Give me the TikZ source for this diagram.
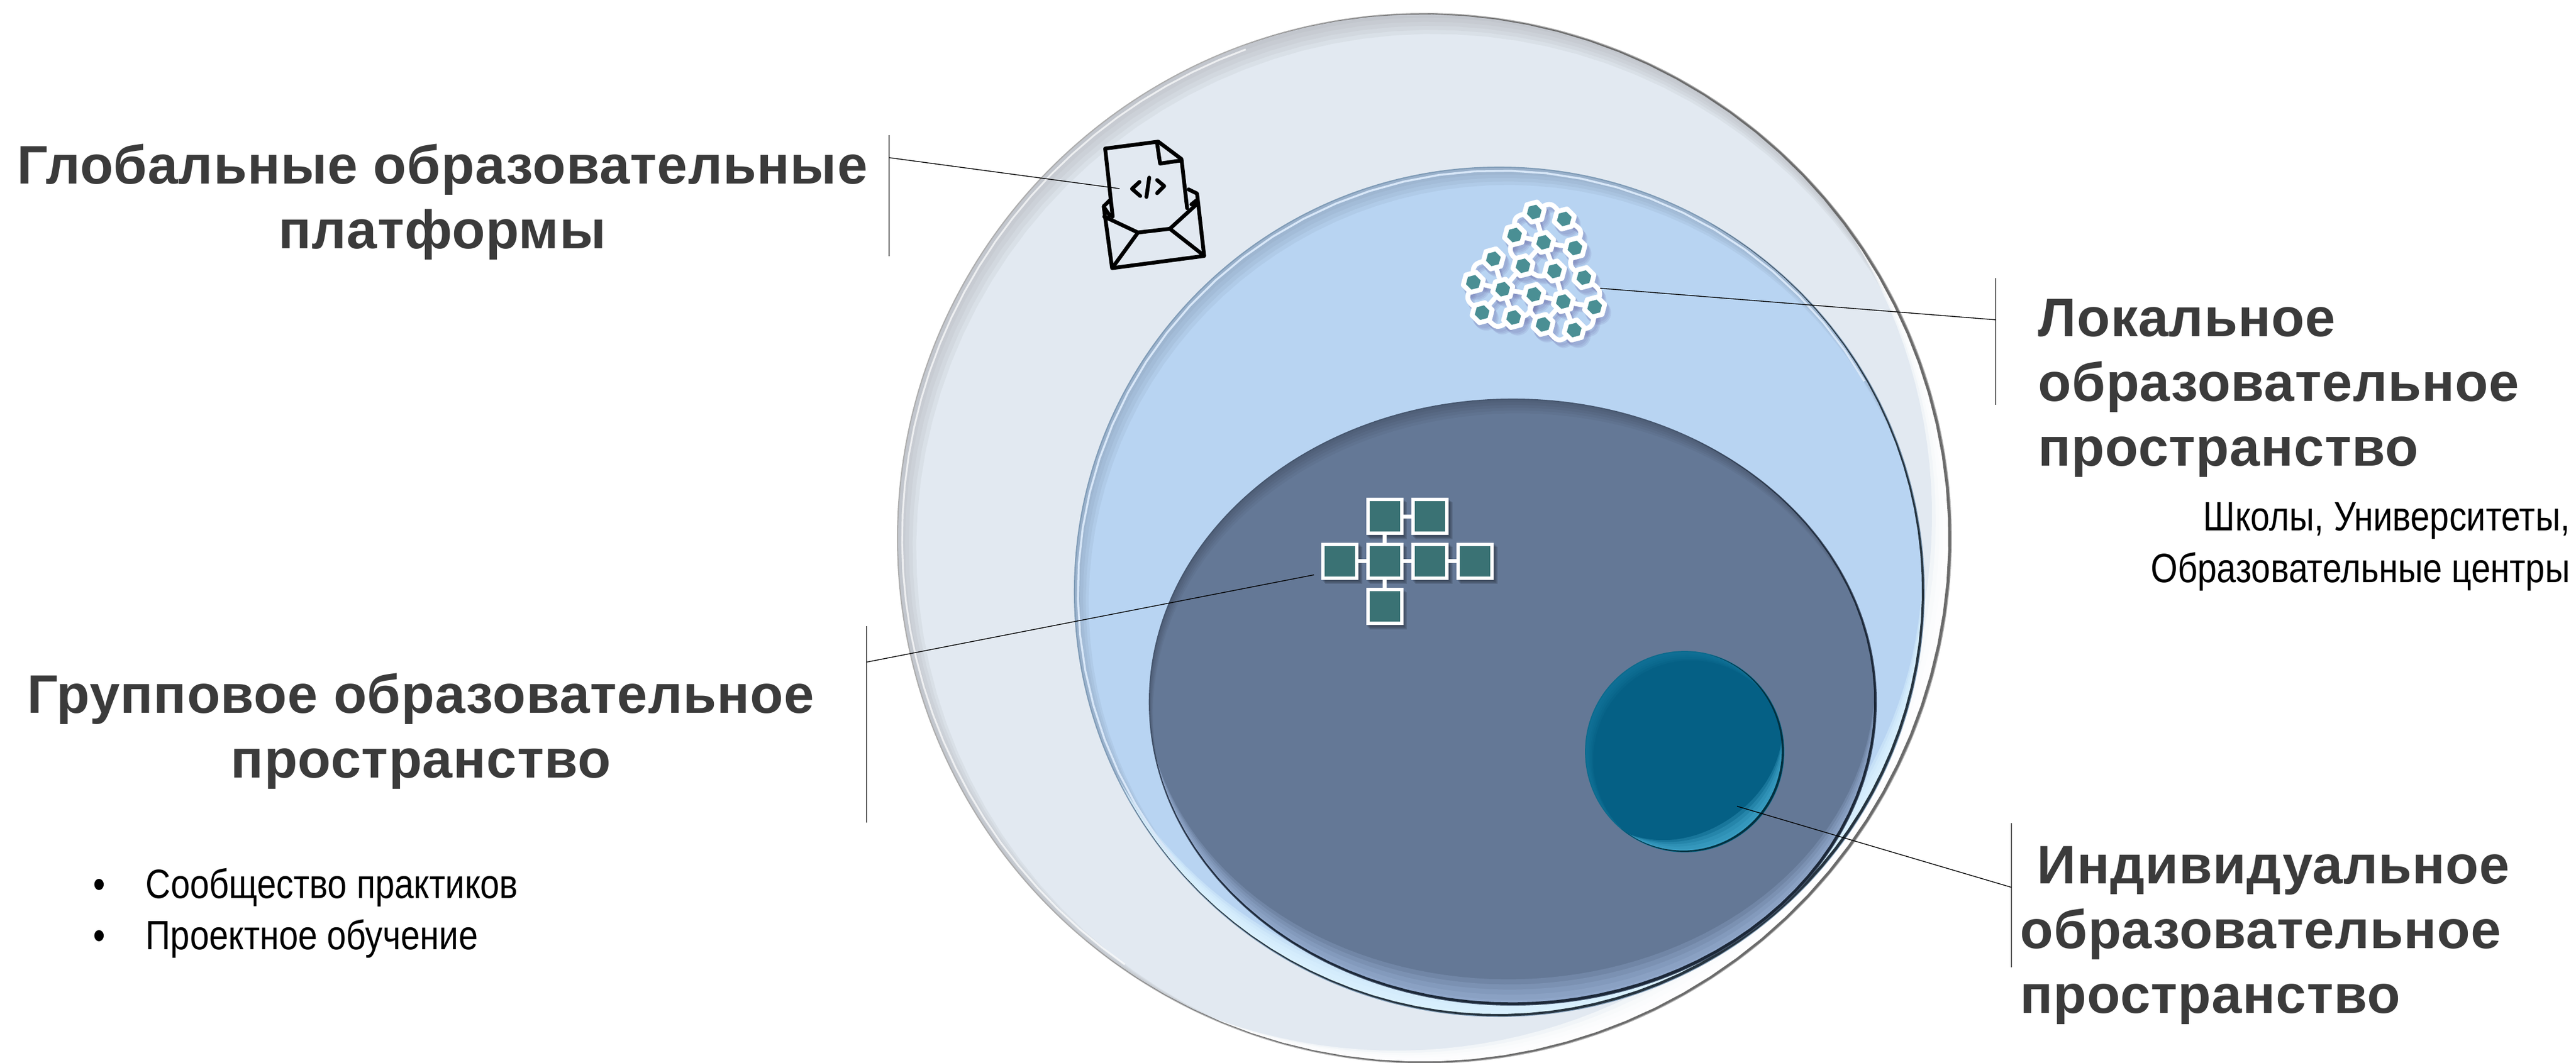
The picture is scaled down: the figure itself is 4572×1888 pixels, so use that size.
\documentclass[tikz,border=0pt]{standalone}
\usepackage{fontspec}
\setmainfont{Liberation Sans}
\newfontfamily\headfont[LetterSpace=1.0]{Liberation Sans Bold}
\newfontfamily\bodyfont[FakeStretch=0.845]{Liberation Sans}
\usetikzlibrary{shapes.geometric,calc}
\definecolor{outerbody}{HTML}{E2E9F1}
\definecolor{midbody}{HTML}{B8D4F2}
\definecolor{innerbody}{HTML}{647896}
\definecolor{smallbody}{HTML}{056085}
\definecolor{headgray}{HTML}{3B3B3B}
\definecolor{hexteal}{HTML}{4A8F94}
\definecolor{sqteal}{HTML}{3A7274}
\definecolor{midhi}{HTML}{DCF3FF}
\definecolor{midedge}{HTML}{26343F}
\definecolor{midrim}{HTML}{7F9BB6}
\definecolor{innerhi}{HTML}{A3BAE0}
\definecolor{inneredge}{HTML}{1C2838}
\definecolor{innerrim}{HTML}{46566E}
\definecolor{smallhi}{HTML}{45AACF}
\definecolor{smallup}{HTML}{1B7FA5}
\definecolor{smallrim}{HTML}{0B6A8C}
\definecolor{smalledge}{HTML}{02303F}
\newcommand{\bevellens}[9]{% cx cy rx ry a b W colour op
  \foreach \kk in {1,...,5}{%
    \pgfmathsetmacro{\ww}{#7*(0.2*\kk)}%
    \fill[#8,opacity=#9]
      plot[domain=#5:#6,samples=70] ({#1+(#3-\ww*max(sin((\x-(#5))/((#6)-(#5))*180),0))*cos(\x)},{#2+(#4-\ww*max(sin((\x-(#5))/((#6)-(#5))*180),0))*sin(\x)})
      -- plot[domain=#6:#5,samples=70] ({#1+#3*cos(\x)},{#2+#4*sin(\x)}) -- cycle;
  }}
\newcommand{\edgelens}[8]{% cx cy rx ry a b W colour
    \fill[#8]
      plot[domain=#5:#6,samples=70] ({#1+(#3-#7*max(sin((\x-(#5))/((#6)-(#5))*180),0))*cos(\x)},{#2+(#4-#7*max(sin((\x-(#5))/((#6)-(#5))*180),0))*sin(\x)})
      -- plot[domain=#6:#5,samples=70] ({#1+#3*cos(\x)},{#2+#4*sin(\x)}) -- cycle;
}
\tikzset{
  leader/.style={black,line width=0.4pt},
  bracket/.style={black!65,line width=0.45pt},
  headtext/.style={font=\fontsize{27.4}{32.7}\selectfont\headfont,text=headgray,inner sep=0pt},
  bodytext/.style={font=\fontsize{20.7}{25.9}\selectfont\bodyfont,text=black,inner sep=0pt},
  hexnode/.style={regular polygon,regular polygon sides=6,shape border rotate=15,minimum size=0.37cm,inner sep=0pt,outer sep=0pt,fill=hexteal,draw=white,line width=0.085cm,line join=round},
  hexlink/.style={white,line width=0.085cm},
  hexshade/.style={line width=0.09cm,color=black!60!blue!60!white,opacity=0.13},
  sqnode/.style={rectangle,minimum size=0.60cm,inner sep=0pt,outer sep=0pt,fill=sqteal,draw=white,line width=0.06cm},
  sqlink/.style={white,line width=0.07cm},
  icon/.style={black,line width=0.068cm,line join=round,line cap=round},
}
\begin{document}
\begin{tikzpicture}[x=0.01cm,y=-0.01cm]
\useasboundingbox (0,0) rectangle (4572,1888);
\fill[white] (0,0) rectangle (4572,1888);

% ---- outer disc
\fill[outerbody] (2528,956) ellipse [x radius=935,y radius=932];
\bevellens{2528}{956}{935}{932}{110}{350}{42}{gray!55!outerbody}{0.15}
\bevellens{2528}{956}{935}{932}{-40}{115}{48}{white}{0.55}
\draw[white,opacity=0.7,line width=0.9pt] plot[domain=125:250,samples=40] ({2528+927*cos(\x)},{956+924*sin(\x)});
\draw[black!32,line width=0.6pt] (2528,956) ellipse [x radius=935,y radius=932];
\edgelens{2528}{956}{935}{932}{-110}{130}{5}{black!58}

% ---- middle disc
\fill[midbody] (2661,1051) ellipse [x radius=754,y radius=754];
\bevellens{2661}{1051}{754}{754}{125}{345}{36}{black!30!midbody}{0.13}
\bevellens{2661}{1051}{754}{754}{-5}{155}{46}{midhi}{0.42}
\draw[white!45!midbody,line width=1pt] plot[domain=140:330,samples=40] ({2661+748*cos(\x)},{1051+748*sin(\x)});
\draw[midrim,line width=0.6pt] (2661,1051) ellipse [x radius=754,y radius=754];
\edgelens{2661}{1051}{754}{754}{-60}{150}{5}{midedge}

% ---- inner disc
\fill[innerbody] (2685,1247) ellipse [x radius=645,y radius=538];
\bevellens{2685}{1247}{645}{538}{165}{345}{26}{black}{0.04}
\bevellens{2685}{1247}{645}{538}{-5}{170}{46}{innerhi}{0.22}
\draw[innerrim,line width=0.6pt] (2685,1247) ellipse [x radius=645,y radius=538];
\edgelens{2685}{1247}{645}{538}{-60}{175}{5}{inneredge}

% ---- small disc
\fill[smallbody] (2990,1335) ellipse [x radius=176,y radius=178];
\bevellens{2990}{1335}{176}{178}{130}{330}{20}{smallup}{0.15}
\bevellens{2990}{1335}{176}{178}{-10}{125}{34}{smallhi}{0.3}
\draw[smallrim,line width=0.5pt] (2990,1335) ellipse [x radius=176,y radius=178];
\edgelens{2990}{1335}{176}{178}{-75}{130}{4}{smalledge}

% ---- envelope icon
\begin{scope}[shift={(1850,200)},x=0.003333cm,y=-0.003333cm]
\draw[icon] (375,555) -- (335,192) -- (618,155) -- (742,248) -- (772,510);
\draw[icon] (612,165) -- (628,272) -- (742,255);
\draw[icon] (360,468) -- (327,500) -- (372,830) -- (863,765) -- (825,432) -- (780,410);
\draw[icon] (330,555) -- (510,640) -- (680,620) -- (822,490);
\draw[icon] (510,640) -- (378,822);
\draw[icon] (680,620) -- (858,760);
\draw[icon] (332,510) -- (360,550);
\draw[icon] (795,490) -- (820,470);
\draw[icon] (518,370) -- (478,407) -- (522,445);
\draw[icon] (570,347) -- (555,450);
\draw[icon] (612,360) -- (650,392) -- (612,430);
\end{scope}

% ---- hexagon cluster
\begin{scope}[shift={(2540,320)},x=0.003333cm,y=-0.003333cm]
\foreach \n/\px/\py in {1/550/170,2/710/207,3/445/293,4/600/332,5/767/362,6/332/420,7/490/457,8/658/485,9/815/520,10/225/545,11/382/582,12/548/610,13/705/648,14/872/677,15/272/707,16/440/733,17/597/770,18/763/800}
  \coordinate (hc\n) at (\px,\py);
\foreach \dx/\dy in {10/16,16/24,22/30}{
  \foreach \a/\b in {1/4,3/4,4/5,4/7,4/8,7/11,6/11,10/11,11/12,11/15,11/16,8/13,12/13,13/14,13/17,13/18}
    \draw[hexshade] ($(hc\a)+(\dx,\dy)$) -- ($(hc\b)+(\dx,\dy)$);
  \foreach \a/\b/\vx/\vy in {1/2/640/110,3/1/440/190,2/5/815/265,5/9/730/460,3/7/410/385,6/10/220/445,10/15/180/640,15/16/350/800,14/9/915/590,14/18/865/790,17/18/680/875,12/17/515/700,16/12/525/725,7/8/575/525}
    \draw[hexshade] ($(hc\a)+(\dx,\dy)$) .. controls ($(\vx,\vy)+(\dx,\dy)$) .. ($(hc\b)+(\dx,\dy)$);
  \foreach \n in {1,...,18}
    \fill[black!60!blue!60!white,opacity=0.13] ($(hc\n)+(\dx,\dy)$) circle [radius=66];
}
\foreach \a/\b in {1/4,3/4,4/5,4/7,4/8,7/11,6/11,10/11,11/12,11/15,11/16,8/13,12/13,13/14,13/17,13/18}
  \draw[hexlink] (hc\a) -- (hc\b);
\foreach \a/\b/\vx/\vy in {1/2/640/110,3/1/440/190,2/5/815/265,5/9/730/460,3/7/410/385,6/10/220/445,10/15/180/640,15/16/350/800,14/9/915/590,14/18/865/790,17/18/680/875,12/17/515/700,16/12/525/725,7/8/575/525}
  \draw[hexlink] (hc\a) .. controls (\vx,\vy) .. (hc\b);
\foreach \n in {1,...,18}
  \node[hexnode] (hex\n) at (hc\n) {};
\end{scope}

% ---- square cluster
\begin{scope}[shift={(2300,850)},x=0.003333cm,y=-0.003333cm]
\foreach \n/\px/\py in {a/474/202,b/715/202,c/234/441,d/474/441,e/715/441,f/956/441,g/474/683}
  \coordinate (sc\n) at (\px,\py);
\foreach \dx/\dy in {8/10,14/16,20/22}{
  \foreach \n in {a,b,c,d,e,f,g}
    \fill[black!70!innerbody,opacity=0.2] ($(sc\n)+(-99+\dx,-99+\dy)$) rectangle ($(sc\n)+(99+\dx,99+\dy)$);
}
\foreach \a/\b in {a/b,a/d,c/d,d/e,e/f,d/g}
  \draw[sqlink] (sc\a) -- (sc\b);
\foreach \n in {a,b,c,d,e,f,g}
  \node[sqnode] (sq\n) at (sc\n) {};
\end{scope}

% ---- brackets and leaders
\coordinate (b1t) at (1578,240); \coordinate (b1b) at (1578,455); \coordinate (b1j) at (1578,280); \coordinate (e1) at (1987,335);
\coordinate (b2t) at (3542,494); \coordinate (b2b) at (3542,719); \coordinate (b2j) at (3542,568); \coordinate (e2) at (2840,512);
\coordinate (b3t) at (1538,1112); \coordinate (b3b) at (1538,1461); \coordinate (b3j) at (1538,1176); \coordinate (e3) at (2332,1021);
\coordinate (b4t) at (3570,1462); \coordinate (b4b) at (3570,1718); \coordinate (b4j) at (3570,1576); \coordinate (e4) at (3083,1432);
\draw[bracket] (b1t) -- (b1b); \draw[leader] (b1j) -- (e1);
\draw[bracket] (b2t) -- (b2b); \draw[leader] (b2j) -- (e2);
\draw[bracket] (b3t) -- (b3b); \draw[leader] (b3j) -- (e3);
\draw[bracket] (b4t) -- (b4b); \draw[leader] (b4j) -- (e4);

% ---- texts (anchor base sits on the last line)
\node[headtext,align=center,anchor=base] (global) at (785,441) {Глобальные образовательные\\платформы};
\node[headtext,align=left,anchor=base west] (local) at (3617,827) {Локальное\\образовательное\\пространство};
\node[bodytext,align=right,anchor=base east] (localsub) at (4562,1034) {Школы, Университеты,\\Образовательные центры};
\node[headtext,align=center,anchor=base] (group) at (747,1381) {Групповое образовательное\\пространство};
\node[bodytext,align=left,anchor=base west] (groupsub) at (165,1686) {\makebox[0.93cm][l]{•}Сообщество практиков\\[-0.2pt]\makebox[0.93cm][l]{•}Проектное обучение};
\node[headtext,align=left,anchor=base west] (indiv) at (3585,1799) {\hspace*{0.3cm}Индивидуальное\\образовательное\\пространство};
\end{tikzpicture}
\end{document}
